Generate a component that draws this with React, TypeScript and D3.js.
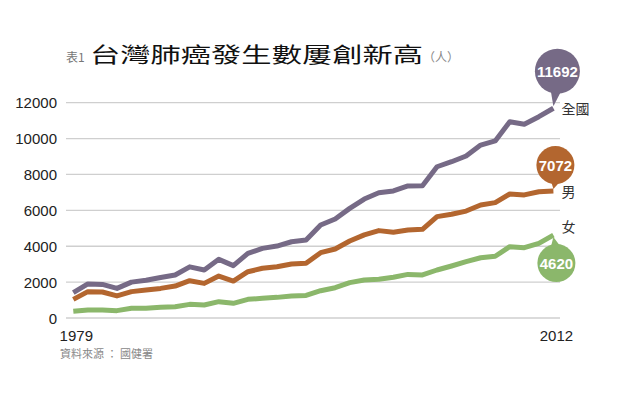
import React, { useEffect, useRef } from 'react';
import * as d3 from 'd3';

const years = d3.range(1979, 2013);
const totalCases = [1410, 1900, 1870, 1650, 2000, 2100, 2260, 2400, 2850, 2675, 3270, 2920, 3600, 3880, 4010, 4250, 4350, 5180, 5520, 6110, 6630, 6985, 7080, 7360, 7375, 8430, 8710, 9030, 9640, 9870, 10940, 10800, 11220, 11692];
const maleCases = [1040, 1470, 1450, 1230, 1470, 1560, 1650, 1780, 2080, 1930, 2340, 2060, 2580, 2770, 2860, 3010, 3050, 3640, 3845, 4290, 4630, 4870, 4780, 4900, 4940, 5650, 5780, 5960, 6300, 6430, 6910, 6860, 7040, 7072];
const femaleCases = [370, 445, 445, 410, 540, 540, 600, 630, 760, 725, 910, 820, 1040, 1100, 1150, 1230, 1260, 1520, 1690, 1970, 2120, 2160, 2270, 2430, 2400, 2675, 2900, 3140, 3360, 3440, 3975, 3920, 4160, 4620];
const yTicks = [0, 2000, 4000, 6000, 8000, 10000, 12000];
const xTickLabels = [1979, 2012];

const series = [
  { name: '全國', values: totalCases, color: '#766a86', bubble: { dx: 4, dy: -37, r: 22.5 }, labelDy: 6 },
  { name: '男', values: maleCases, color: '#b3662f', bubble: { dx: 2, dy: -26, r: 19 }, labelDy: 6 },
  { name: '女', values: femaleCases, color: '#8bb76b', bubble: { dx: 3, dy: 28, r: 19 }, labelDy: -3 },
];

const App = () => {
  const svgRef = useRef(null);

  useEffect(() => {
    const width = 620;
    const height = 397;
    const svg = d3.select(svgRef.current).attr('width', width).attr('height', height);
    svg.selectAll('*').remove();

    const font = '"Liberation Sans", Arial, sans-serif';
    const cjk = '"Noto Sans CJK TC", "Noto Sans CJK SC", sans-serif';

    const x = d3.scaleLinear().domain([1979, 2012]).range([73.3, 553.4]);
    const y = d3.scaleLinear().domain([0, 12000]).range([318, 102.7]);

    // gridlines
    svg.append('g')
      .selectAll('line')
      .data(yTicks)
      .enter().append('line')
      .attr('x1', 66).attr('x2', 560)
      .attr('y1', d => y(d)).attr('y2', d => y(d))
      .attr('stroke', '#cfcfcf')
      .attr('stroke-width', 1.3);

    // y tick labels
    svg.append('g')
      .selectAll('text')
      .data(yTicks)
      .enter().append('text')
      .attr('x', 57)
      .attr('y', d => y(d) + 5.5)
      .attr('text-anchor', 'end')
      .attr('font-family', font)
      .attr('font-size', 15)
      .attr('fill', '#222')
      .text(d => d);

    // x labels
    svg.append('g')
      .selectAll('text')
      .data(xTickLabels)
      .enter().append('text')
      .attr('x', d => x(d) + 3)
      .attr('y', 341)
      .attr('text-anchor', 'middle')
      .attr('font-family', font)
      .attr('font-size', 15)
      .attr('fill', '#222')
      .text(d => d);

    const line = d3.line()
      .x((d, i) => x(years[i]))
      .y(d => y(d));

    series.forEach(s => {
      svg.append('path')
        .datum(s.values)
        .attr('d', line)
        .attr('fill', 'none')
        .attr('stroke', s.color)
        .attr('stroke-width', 5)
        .attr('stroke-linejoin', 'round');
    });

    // bubbles with pointers
    series.forEach(s => {
      const lastVal = s.values[s.values.length - 1];
      const px = x(2012);
      const py = y(lastVal);
      const cx = px + s.bubble.dx;
      const cy = py + s.bubble.dy;
      const r = s.bubble.r;
      const up = s.bubble.dy < 0;
      const baseY = up ? cy + r - 5 : cy - r + 5;
      const tipY = up ? py - 2 : py + 2;
      const g = svg.append('g');
      g.append('path')
        .attr('d', `M${px - 3},${baseY} L${px + 9},${baseY} L${px},${tipY} Z`)
        .attr('fill', s.color);
      g.append('circle')
        .attr('cx', cx).attr('cy', cy).attr('r', r)
        .attr('fill', s.color);
      g.append('text')
        .attr('x', cx)
        .attr('y', cy + 5.5)
        .attr('text-anchor', 'middle')
        .attr('font-family', font)
        .attr('font-weight', 'bold')
        .attr('font-size', 15)
        .attr('fill', '#fff')
        .text(lastVal);

      svg.append('text')
        .attr('x', px + 8)
        .attr('y', py + s.labelDy)
        .attr('font-family', cjk)
        .attr('font-size', 14)
        .attr('fill', '#333')
        .text(s.name);
    });

    // title
    svg.append('text')
      .attr('x', 66).attr('y', 62)
      .attr('font-family', cjk)
      .attr('font-size', 12)
      .attr('fill', '#777')
      .text('表1');
    svg.append('text')
      .attr('x', 90).attr('y', 62)
      .attr('font-family', cjk)
      .attr('font-size', 21)
      .attr('font-weight', 400)
      .attr('fill', '#111')
      .attr('textLength', 333)
      .attr('lengthAdjust', 'spacingAndGlyphs')
      .text('台灣肺癌發生數屢創新高');
    svg.append('text')
      .attr('x', 423).attr('y', 62)
      .attr('font-family', cjk)
      .attr('font-size', 12)
      .attr('fill', '#888')
      .text('（人）');

    // source
    svg.append('text')
      .attr('x', 60).attr('y', 358)
      .attr('font-family', cjk)
      .attr('font-size', 11)
      .attr('fill', '#888')
      .text('資料來源 ： 國健署');
  }, []);

  return (
    <svg ref={svgRef} style={{ position: 'absolute', left: 0, top: 0, background: '#fff' }}></svg>
  );
};

export default App;
